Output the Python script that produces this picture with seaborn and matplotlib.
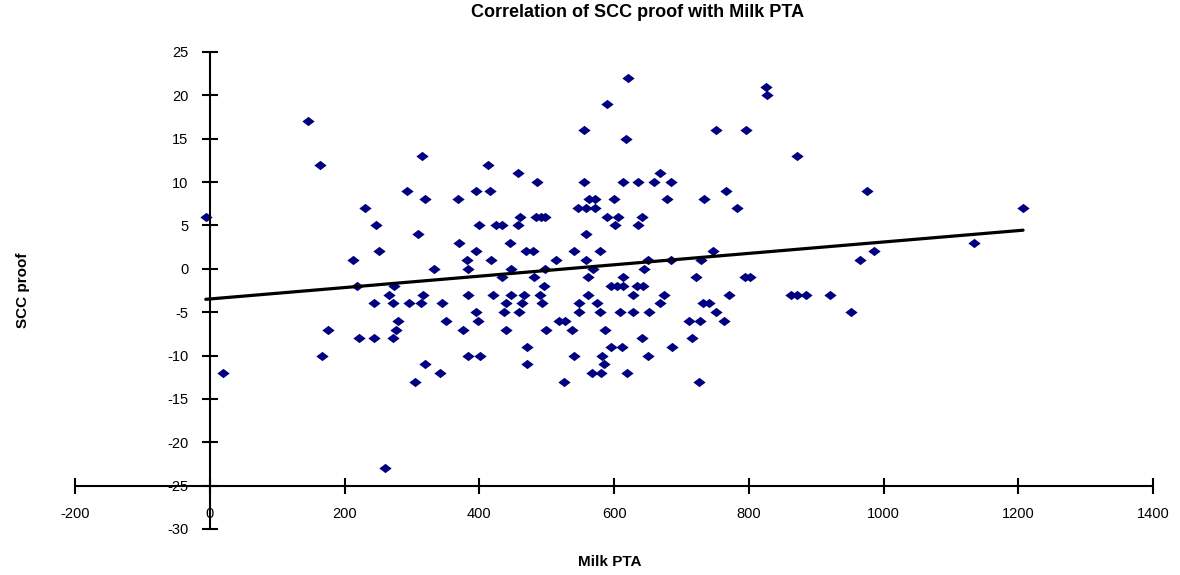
import numpy as np
import pandas as pd
import matplotlib
matplotlib.use("Agg")
import matplotlib.pyplot as plt
import seaborn as sns

# values
milk_pta = [
    -6, 19, 145, 164, 175, 167, 213, 219, 222, 230, 244, 244, 246, 251, 260,
    266, 272, 272, 273, 276, 279, 293, 296, 304, 309, 313, 315, 316, 319, 320,
    333, 341, 345, 350, 368, 370, 376, 382, 383, 383, 383, 395, 395, 395, 398,
    400, 401, 413, 416, 418, 420, 425, 433, 434, 436, 439, 439, 445, 447, 447,
    457, 457, 459, 460, 463, 467, 469, 471, 471, 480, 481, 484, 486, 490, 491,
    493, 496, 497, 498, 499, 514, 518, 525, 527, 538, 540, 540, 547, 548, 548,
    555, 555, 558, 558, 559, 561, 561, 563, 567, 569, 572, 572, 574, 579, 579,
    580, 582, 585, 586, 589, 590, 596, 596, 600, 602, 604, 606, 609, 612, 613,
    613, 613, 617, 619, 620, 628, 628, 634, 635, 636, 641, 641, 643, 644, 651,
    651, 652, 659, 668, 668, 674, 679, 684, 684, 686, 711, 715, 721, 726, 727,
    729, 732, 734, 741, 747, 751, 751, 763, 766, 771, 782, 794, 796, 801, 825,
    827, 863, 871, 872, 885, 921, 952, 965, 976, 986, 1134, 1207,
]
scc_proof = [
    6, -12, 17, 12, -7, -10, 1, -2, -8, 7, -4, -8, 5, 2, -23,
    -3, -4, -8, -2, -7, -6, 9, -4, -13, 4, -4, 13, -3, 8, -11,
    0, -12, -4, -6, 8, 3, -7, 1, 0, -3, -10, 9, 2, -5, -6,
    5, -10, 12, 9, 1, -3, 5, -1, 5, -5, -4, -7, 3, 0, -3,
    11, 5, -5, 6, -4, -3, 2, -9, -11, 2, -1, 6, 10, -3, 6,
    -4, -2, 0, 6, -7, 1, -6, -13, -6, -7, 2, -10, 7, -4, -5,
    16, 10, 7, 4, 1, -1, -3, 8, -12, 0, 8, 7, -4, 2, -5,
    -12, -10, -11, -7, 19, 6, -2, -9, 8, 5, -2, 6, -5, -9, 10,
    -1, -2, 15, -12, 22, -3, -5, -2, 5, 10, 6, -8, -2, 0, 1,
    -10, -5, 10, 11, -4, -3, 8, 10, 1, -9, -6, -8, -1, -13, -6,
    1, -4, 8, -4, 2, 16, -5, -6, 9, -3, 7, -1, 16, -1, 21,
    20, -3, 13, -3, -3, -3, -5, 1, 9, 2, 3, 7,
]
x_ticks = list(range(-200, 1401, 200))
y_ticks = list(range(-30, 26, 5))

title = "Correlation of SCC proof with Milk PTA"
x_label = "Milk PTA"
y_label = "SCC proof"

df = pd.DataFrame({"Milk PTA": milk_pta, "SCC proof": scc_proof})

sns.set_style("white")
plt.rcParams["font.family"] = ["Liberation Sans", "DejaVu Sans"]
plt.rcParams["axes.unicode_minus"] = False
plt.rcParams["text.color"] = "black"
plt.rcParams["axes.labelcolor"] = "black"

fig = plt.figure(figsize=(11.8, 5.75), dpi=100)
ax = fig.add_axes([0.0636, 0.08, 0.9136, 0.8296])

diamond = [(-1, 0), (0, 0.76), (1, 0), (0, -0.76)]
sns.regplot(data=df, x="Milk PTA", y="SCC proof", ci=None, ax=ax,
            marker=diamond,
            scatter_kws=dict(color="#000080", s=78, linewidths=0, alpha=1),
            line_kws=dict(color="black", lw=2.3, zorder=5))

ax.set_xlim(-200, 1400)
ax.set_ylim(-30, 25)
ax.set_xticks(x_ticks)
ax.set_yticks(y_ticks)

for s in ["top", "right"]:
    ax.spines[s].set_visible(False)
ax.spines["left"].set_position(("data", 0))
ax.spines["bottom"].set_position(("data", -25))
for s in ["left", "bottom"]:
    ax.spines[s].set_linewidth(1.5)
    ax.spines[s].set_color("black")

ax.tick_params(axis="both", direction="inout", length=11, width=1.5,
               pad=10, labelsize=10.5, colors="black",
               bottom=True, left=True)

ax.set_xlabel(x_label, fontsize=11, fontweight="bold")
ax.xaxis.set_label_coords(0.496, -0.054)
ax.set_ylabel(y_label, fontsize=11, fontweight="bold",
              family=["Liberation Sans Narrow", "Liberation Sans"])
ax.yaxis.set_label_coords(-0.042, 0.5)

# title sits right at the top edge, as in the original
fig.text(0.54, 1 - 17 / 575, title, ha="center", va="baseline",
         fontsize=13, fontweight="bold")

fig.savefig("out.png", dpi=100)
